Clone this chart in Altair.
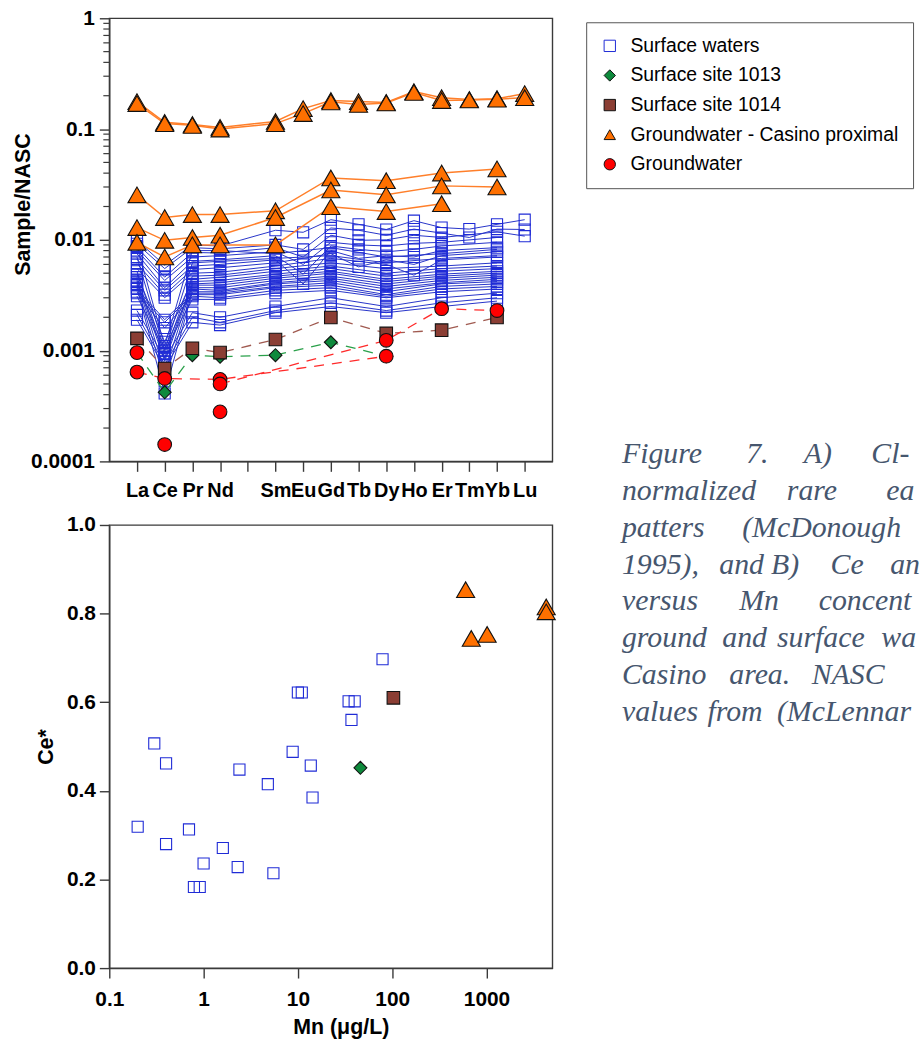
import json
import altair as alt
import pandas as pd

# ---------------- data ----------------
ELEMENTS = ["La", "Ce", "Pr", "Nd", "Pm", "Sm", "Eu", "Gd", "Tb", "Dy", "Ho", "Er", "Tm", "Yb", "Lu"]
TICK_LABELS = ["La", "Ce", "Pr", "Nd", "", "Sm", "Eu", "Gd", "Tb", "Dy", "Ho", "Er", "Tm", "Yb", "Lu"]
MEASURED = ["La", "Ce", "Pr", "Nd", "Sm", "Eu", "Gd", "Tb", "Dy", "Ho", "Er", "Tm", "Yb", "Lu"]

GROUPS = ["Surface waters", "Surface site 1013", "Surface site 1014",
          "Groundwater - Casino proximal", "Groundwater"]

N = None
# columns follow MEASURED
SURFACE_WATERS = [
    [0.0099, 0.0059, 0.0090, 0.0088, 0.0122, 0.0117, 0.0152, 0.0138, 0.0124, 0.0149, 0.0129, 0.0125, 0.0138, 0.0152],
    [0.0092, 0.0055, 0.0085, 0.0083, 0.0090, 0.0082, 0.0128, 0.0122, 0.0110, 0.0125, 0.0115, 0.0105, 0.0125, 0.0124],
    [0.0086, 0.0046, 0.0077, 0.0076, 0.0085, 0.0070, 0.0110, 0.0099, 0.0100, 0.0110, 0.0105, N, 0.0118, 0.0108],
    [0.0080, 0.0043, 0.0070, 0.0072, 0.0078, 0.0060, 0.0095, 0.0090, 0.0088, 0.0093, 0.0095, N, 0.0105, N],
    [0.0075, 0.0037, 0.0064, 0.0066, 0.0072, 0.0049, 0.0088, 0.0082, 0.0078, 0.0082, 0.0088, N, 0.0095, N],
    [0.0067, 0.0035, 0.0058, 0.0060, 0.0066, 0.0040, 0.0080, 0.0068, 0.0072, 0.0070, 0.0080, N, 0.0085, N],
    [0.0061, 0.0032, 0.0054, 0.0056, 0.0062, N, 0.0075, 0.0057, 0.0066, 0.0060, 0.0072, N, 0.0078, N],
    [0.0055, 0.0030, 0.0050, 0.0051, 0.0058, N, 0.0068, N, 0.0060, 0.0048, 0.0066, N, 0.0070, N],
    [0.0088, 0.0011, 0.0080, 0.0080, 0.0075, N, 0.0085, N, 0.0070, N, 0.0075, N, 0.0082, N],
    [0.0070, 0.0010, 0.0062, 0.0064, 0.0068, N, 0.0072, N, 0.0062, N, 0.0068, N, 0.0072, N],
    [0.0052, 0.00093, 0.0047, 0.0048, 0.0055, N, 0.0062, N, 0.0055, N, 0.0058, N, 0.0062, N],
    [0.0049, 0.0012, 0.0044, 0.0046, 0.0052, N, 0.0058, N, 0.0050, N, 0.0055, N, 0.0058, N],
    [0.0046, 0.00086, 0.0042, 0.0043, 0.0049, N, 0.0055, N, 0.0047, N, 0.0052, N, 0.0055, N],
    [0.0043, 0.00080, 0.0040, 0.0041, 0.0047, N, 0.0052, N, 0.0044, N, 0.0049, N, 0.0052, N],
    [0.0042, 0.00065, 0.0039, 0.0039, 0.0045, N, 0.0050, N, 0.0042, N, 0.0047, N, 0.0050, N],
    [0.0040, 0.00105, 0.0037, 0.0037, 0.0043, N, 0.0047, N, 0.0040, N, 0.0045, N, 0.0048, N],
    [0.0039, 0.00053, 0.0036, 0.0035, 0.0041, N, 0.0045, N, 0.0038, N, 0.0043, N, 0.0046, N],
    [0.0037, 0.00041, 0.0034, 0.0034, 0.0040, N, 0.0043, N, 0.0036, N, 0.0041, N, 0.0044, N],
    [0.0036, 0.0019, 0.0033, 0.0033, 0.0038, N, 0.0041, N, 0.0034, N, 0.0040, N, 0.0042, N],
    [0.0034, 0.0018, 0.0032, 0.0032, 0.0037, N, 0.0039, N, 0.0032, N, 0.0038, N, 0.0040, N],
    [0.0033, 0.0016, 0.0031, 0.0030, 0.0035, N, 0.0037, N, 0.0031, N, 0.0036, N, 0.0038, N],
    [0.0031, 0.0010, 0.0029, 0.0029, 0.0033, N, 0.0035, N, 0.0030, N, 0.0034, N, 0.0036, N],
    [0.0023, 0.00085, 0.0022, 0.0020, 0.0025, N, 0.0030, N, 0.0025, N, 0.0030, N, 0.0033, N],
    [0.0021, 0.00075, 0.0020, 0.0018, 0.0023, N, 0.0027, N, 0.0023, N, 0.0027, N, 0.0030, N],
    [0.0019, 0.00070, 0.0018, 0.0017, 0.0022, N, 0.0025, N, 0.0022, N, 0.0025, N, 0.0028, N],
]
CASINO_PROXIMAL = [
    [0.177, 0.115, 0.110, 0.1035, 0.117, 0.153, 0.181, 0.177, 0.174, 0.218, 0.192, 0.185, 0.188, 0.209],
    [0.170, 0.112, 0.108, 0.100, 0.112, 0.138, 0.176, 0.167, 0.172, 0.214, 0.181, 0.183, 0.186, 0.192],
    [0.0255, 0.0159, 0.0169, 0.0169, 0.0183, N, 0.0362, N, 0.0342, N, 0.0401, N, 0.0437, N],
    [0.0129, 0.0099, 0.0105, 0.0110, 0.0159, N, 0.0282, N, 0.0255, N, 0.0307, N, 0.0300, N],
    [0.0095, 0.0070, 0.0090, 0.0090, 0.0090, N, 0.0199, N, 0.0180, N, 0.0212, N, N, N],
]
SITE_1013 = [[0.00096, 0.00042, 0.00091, 0.00088, 0.00091, N, 0.00119, N, 0.00089, N, N, N, N, N]]
SITE_1014 = [[0.00129, 0.00069, 0.00105, 0.00096, 0.00126, N, 0.00199, N, 0.00143, N, 0.00153, N, 0.00199, N]]
GROUNDWATER_LINKED = [
    [0.00064, 0.00056, N, 0.00055, N, N, N, N, 0.00089, N, N, N, N, N],
    [N, N, N, 0.00050, N, N, N, N, 0.00124, N, 0.00239, N, 0.00230, N],
]
GROUNDWATER_SINGLE = [[0.00096, 0.000142, N, 0.00028, N, N, N, N, N, N, N, N, N, N]]

MINOR_TICKS = [m * 10.0 ** e for e in (-4, -3, -2, -1) for m in range(2, 10)]

# Ce* versus Mn
SW_MN = [0.20, 0.30, 0.40, 0.40, 0.70, 0.79, 0.91, 1.0, 1.6, 2.3, 2.4, 4.8, 5.5, 8.8,
         10.0, 11.0, 13.7, 14.3, 34.5, 37.0, 40.0, 79.0]
SW_CE = [0.319, 0.507, 0.462, 0.280, 0.313, 0.183, 0.183, 0.236, 0.271, 0.228, 0.448, 0.415, 0.214, 0.488,
         0.622, 0.622, 0.457, 0.385, 0.602, 0.560, 0.602, 0.697]
S1013_MN = [46.0]
S1013_CE = [0.452]
S1014_MN = [103.0]
S1014_CE = [0.610]
CP_MN = [601.0, 690.0, 1016.0, 4300.0, 4300.0]
CP_CE = [0.854, 0.744, 0.753, 0.815, 0.804]

CAPTION_LINES = [
    ["Figure", "7.", "A)", "Cl-"],
    ["normalized", "rare", "ea"],
    ["patters", "(McDonough"],
    ["1995),", "and", "B)", "Ce", "an"],
    ["versus", "Mn", "concent"],
    ["ground", "and", "surface", "wa"],
    ["Casino", "area.", "NASC"],
    ["values", "from", "(McLennar"],
]
# layout of the caption (page pixels): word starts and line baselines
CAPTION_X = [[627, 752, 810, 878], [627, 793, 893], [627, 748], [627, 725, 777, 837, 897],
             [627, 745, 825], [627, 728, 783, 888], [627, 735, 818], [627, 713, 783]]
CAPTION_BASE = [462, 499, 536, 573, 610, 647, 684, 721]


def long_rows(group, series_list, prefix):
    rows = []
    for i, vals in enumerate(series_list):
        for el, v in zip(MEASURED, vals):
            if v is not None:
                rows.append({"group": group, "series": f"{prefix}{i}",
                             "idx": ELEMENTS.index(el), "value": v})
    return rows


df_sw = pd.DataFrame(long_rows(GROUPS[0], SURFACE_WATERS, "sw"))
df_cp = pd.DataFrame(long_rows(GROUPS[3], CASINO_PROXIMAL, "cp"))
df_13 = pd.DataFrame(long_rows(GROUPS[1], SITE_1013, "s13"))
df_14 = pd.DataFrame(long_rows(GROUPS[2], SITE_1014, "s14"))
df_gwl = pd.DataFrame(long_rows(GROUPS[4], GROUNDWATER_LINKED, "gw"))
df_gws = pd.DataFrame(long_rows(GROUPS[4], GROUNDWATER_SINGLE, "gws"))
df_gw = pd.concat([df_gwl, df_gws], ignore_index=True)

df_ce_sw = pd.DataFrame({"group": GROUPS[0], "mn": SW_MN, "ce": SW_CE})
df_ce_13 = pd.DataFrame({"group": GROUPS[1], "mn": S1013_MN, "ce": S1013_CE})
df_ce_14 = pd.DataFrame({"group": GROUPS[2], "mn": S1014_MN, "ce": S1014_CE})
df_ce_cp = pd.DataFrame({"group": GROUPS[3], "mn": CP_MN, "ce": CP_CE})

cap_rows = []
for words, xs, base in zip(CAPTION_LINES, CAPTION_X, CAPTION_BASE):
    for w, x in zip(words, xs):
        cap_rows.append({"word": w, "px": x, "py": base})
df_cap = pd.DataFrame(cap_rows)

# ---------------- styles ----------------
AXC = "#3a3a3a"
FONT = "Liberation Sans"
BLUE = "#1f2bd6"
BLUE_LINE = "#2734c9"
ORANGE_LINE = "#ff7f2a"
GROUP_FILL = ["transparent", "#0e8a3c", "#8b3e34", "#ff7000", "#ff0000"]
GROUP_STROKE = [BLUE, "#111111", "#111111", "#111111", "#111111"]
GROUP_SHAPE = ["square", "diamond", "square", "triangle-up", "circle"]
SIZE = {GROUPS[0]: 125, GROUPS[1]: 170, GROUPS[2]: 160, GROUPS[3]: 330, GROUPS[4]: 190}

legend = alt.Legend(title=None, orient="none", legendX=480, legendY=4,
                    labelFont=FONT, labelFontSize=19.5, labelFontWeight="normal",
                    labelColor="black", symbolSize=130, symbolStrokeWidth=1,
                    padding=14, rowPadding=8.8, labelOffset=11, labelLimit=500,
                    strokeColor="#555555", fillColor="white")


def marker_enc(leg):
    return dict(
        fill=alt.Fill("group:N", scale=alt.Scale(domain=GROUPS, range=GROUP_FILL), legend=leg),
        stroke=alt.Stroke("group:N", scale=alt.Scale(domain=GROUPS, range=GROUP_STROKE), legend=leg),
        shape=alt.Shape("group:N", scale=alt.Scale(domain=GROUPS, range=GROUP_SHAPE), legend=leg),
    )


label_expr = json.dumps(TICK_LABELS) + "[datum.value]"
x_top = alt.X("idx:Q", scale=alt.Scale(domain=[-1, 15], nice=False, zero=False),
              axis=alt.Axis(values=list(range(len(ELEMENTS))), labelExpr=label_expr, title=None,
                            tickSize=10, labelPadding=9, labelOverlap=False, labelFlush=False,
                            labelFontSize=20))
y_top = alt.Y("value:Q", scale=alt.Scale(type="log", domain=[1e-4, 1], nice=False),
              axis=alt.Axis(values=[1e-4, 1e-3, 1e-2, 1e-1, 1], format="~g", tickSize=10,
                            labelPadding=5, labelOverlap=False, labelFlush=False,
                            title="Sample/NASC", titleAngle=270, titleX=-80, titleY=187,
                            titleAlign="center", titleBaseline="alphabetic"))

minor = alt.Chart(pd.DataFrame({"value": MINOR_TICKS})).mark_rule(
    color=AXC, strokeWidth=1.2).encode(y=y_top, x=alt.value(-6), x2=alt.value(0))

blue_lines = alt.Chart(df_sw).mark_line(color=BLUE_LINE, strokeWidth=1).encode(
    x=x_top, y=y_top, detail="series:N")


def pts(df, group, xe, ye, leg):
    return alt.Chart(df).mark_point(filled=True, opacity=1, strokeWidth=1.1,
                                    size=SIZE[group]).encode(x=xe, y=ye, **marker_enc(leg))


def dashed(df, color):
    return alt.Chart(df).mark_line(color=color, strokeWidth=1.3, strokeDash=[10, 8]).encode(
        x=x_top, y=y_top, detail="series:N")


green_line = dashed(df_13, "#2aa04a")
brown_line = dashed(df_14, "#a05a50")
red_line = dashed(df_gwl, "#ff2a2a")
orange_lines = alt.Chart(df_cp).mark_line(color=ORANGE_LINE, strokeWidth=1.5).encode(
    x=x_top, y=y_top, detail="series:N")

top = alt.layer(
    minor, blue_lines,
    pts(df_sw, GROUPS[0], x_top, y_top, legend),
    green_line, brown_line, red_line, orange_lines,
    pts(df_cp, GROUPS[3], x_top, y_top, legend),
    pts(df_13, GROUPS[1], x_top, y_top, legend),
    pts(df_14, GROUPS[2], x_top, y_top, legend),
    pts(df_gw, GROUPS[4], x_top, y_top, legend),
).properties(width=446, height=446)

x_bot = alt.X("mn:Q", scale=alt.Scale(type="log", domain=[0.1, 5000], nice=False),
              axis=alt.Axis(values=[0.1, 1, 10, 100, 1000], format="~g", tickSize=10,
                            labelPadding=11, labelFlush=False, labelOverlap=False,
                            title="Mn (μg/L)", titleX=233, titleY=66,
                            titleAlign="center", titleBaseline="alphabetic"))
y_bot = alt.Y("ce:Q", scale=alt.Scale(domain=[0, 1], nice=False, zero=False),
              axis=alt.Axis(values=[0, 0.2, 0.4, 0.6, 0.8, 1.0], format=".1f", tickSize=10,
                            labelPadding=4, labelFlush=False, labelOverlap=False,
                            title="Ce*", titleAngle=270, titleX=-57, titleY=223,
                            titleAlign="center", titleBaseline="alphabetic"))

caption = alt.Chart(df_cap).mark_text(
    align="left", baseline="alphabetic", font="Liberation Serif", fontStyle="italic",
    fontSize=30, color="#46566e").encode(
    x=alt.X("px:Q", scale=alt.Scale(domain=[111, 557], nice=False, zero=False), axis=None),
    y=alt.Y("py:Q", scale=alt.Scale(domain=[524, 970], reverse=True, nice=False, zero=False), axis=None),
    text="word:N")

bot_pts = alt.layer(
    pts(df_ce_sw, GROUPS[0], x_bot, y_bot, None),
    pts(df_ce_13, GROUPS[1], x_bot, y_bot, None),
    pts(df_ce_14, GROUPS[2], x_bot, y_bot, None),
    pts(df_ce_cp, GROUPS[3], x_bot, y_bot, None),
)

bottom = alt.layer(bot_pts, caption).resolve_scale(x="independent", y="independent").properties(
    width=446, height=446)

chart = alt.vconcat(top, bottom, spacing=64, bounds="flush").resolve_scale(
    fill="independent", stroke="independent", shape="independent"
).properties(
    padding={"left": 12, "top": 3, "right": 0, "bottom": 2}
).configure_view(
    stroke=AXC, strokeWidth=1.4
).configure_axis(
    domainColor=AXC, tickColor=AXC, domainWidth=1.4, tickWidth=1.4, grid=False,
    labelFont=FONT, titleFont=FONT, labelColor="black", titleColor="black",
    labelFontWeight="bold", titleFontWeight="bold", labelFontSize=21, titleFontSize=21.5
)

chart.save("out.html", embed_options={"renderer": "svg", "actions": False})
